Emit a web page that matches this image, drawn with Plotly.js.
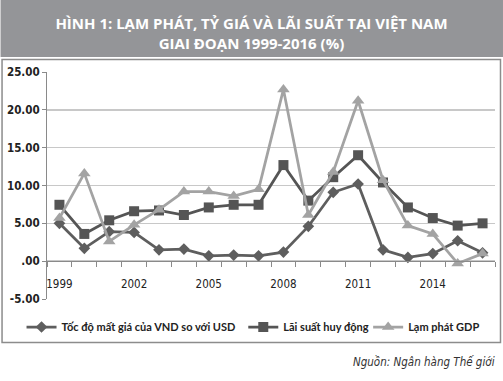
<!DOCTYPE html>
<html>
<head>
<meta charset="utf-8">
<script src="https://cdn.plot.ly/plotly-3.0.1.min.js"></script>
<style>
html,body{margin:0;padding:0;background:#fff;}
#chart{width:503px;height:381px;}
</style>
</head>
<body>
<div id="chart"></div>
<script>
var years = ["1999","2000","2001","2002","2003","2004","2005","2006","2007","2008","2009","2010","2011","2012","2013","2014","2015","2016"];
var yearLabels = ["1999","","","2002","","","2005","","","2008","","","2011","","","2014","",""];
var depreciation = [5.0,1.7,3.9,3.8,1.5,1.6,0.7,0.8,0.7,1.2,4.6,9.1,10.2,1.5,0.5,1.0,2.7,1.1];
var depositRate = [7.45,3.6,5.4,6.6,6.7,6.1,7.1,7.45,7.45,12.7,8.0,11.1,14.0,10.4,7.1,5.7,4.7,5.0];
var gdpInflation = [5.7,11.6,2.6,4.8,6.8,9.2,9.2,8.6,9.5,22.7,6.1,11.8,21.2,10.7,4.7,3.6,-0.3,1.0];
var yTickVals = [-5,0,5,10,15,20,25];
var yTickText = ["-5.00",".00","5.00","10.00","15.00","20.00","25.00"];
var seriesNames = ["Tốc độ mất giá của VND so với USD","Lãi suất huy động","Lạm phát GDP"];
var titleLines = ["HÌNH 1: LẠM PHÁT, TỶ GIÁ VÀ LÃI SUẤT TẠI VIỆT NAM","GIAI ĐOẠN 1999-2016 (%)"];
var sourceText = "Nguồn: Ngân hàng Thế giới";

var W = 503, H = 381;
var m = {l:46.5, r:8, t:72, b:82};
var pw = W - m.l - m.r, ph = H - m.t - m.b;
function px(x){ return (x - m.l)/pw; }
function py(y){ return (H - m.b - y)/ph; }

var narrow = '"DejaVu Sans Condensed", Arial, sans-serif';

var traces = [
  {x: years, y: depreciation, name: seriesNames[0], type:'scatter', mode:'lines+markers', legend:'legend',
   line:{color:'#5e5e5e', width:2.75}, marker:{symbol:'diamond', size:9, color:'#5e5e5e'}},
  {x: years, y: depositRate, name: seriesNames[1], type:'scatter', mode:'lines+markers', legend:'legend2',
   line:{color:'#555555', width:2.75}, marker:{symbol:'square', size:10, color:'#555555'}},
  {x: years, y: gdpInflation, name: seriesNames[2], type:'scatter', mode:'lines+markers', legend:'legend3',
   line:{color:'#a3a3a3', width:2.75}, marker:{symbol:'triangle-up', size:11, color:'#a3a3a3'}}
];

var legFont = {family:'Lato, "DejaVu Sans Condensed", sans-serif', size:11, color:'#222', weight:700};
function leg(x){ return {orientation:'h', x:px(x), xanchor:'left', y: py(327), yanchor:'middle',
  font:legFont, itemwidth:30, bgcolor:'rgba(0,0,0,0)', borderwidth:0}; }

var layout = {
  width: W, height: H,
  margin: m,
  paper_bgcolor:'#fff', plot_bgcolor:'#fff',
  showlegend: true,
  title: {text: titleLines.join('<br>'), x:0.5, xref:'container', xanchor:'center',
          y: 1 - 29/H, yref:'container', yanchor:'middle',
          font:{family:'"Open Sans", sans-serif', size:15, color:'#ffffff', weight:700}},
  xaxis: {type:'category', tickmode:'array', tickvals: years, ticktext: yearLabels,
          tickson:'boundaries', ticks:'outside', ticklen:5, tickcolor:'#8a8a8a',
          showgrid:false, showline:true, linecolor:'#8a8a8a', linewidth:1,
          anchor:'free', position: 5/30, ticklabelstandoff: 12, tickangle:0,
          range:[-0.5, 17.5], zeroline:false, automargin:false,
          tickfont:{family:narrow, size:11.5, color:'#222'}},
  yaxis: {range:[-5,25], tickmode:'array', tickvals: yTickVals, ticktext: yTickText,
          showgrid:true, gridcolor:'#c8c8c8', gridwidth:1.5, automargin:false,
          zeroline:false, showline:true, linecolor:'#8a8a8a', linewidth:1,
          ticks:'outside', ticklen:4, tickcolor:'#8a8a8a',
          tickfont:{family:narrow, size:11.5, color:'#222', weight:700}},
  legend: leg(21), legend2: leg(243), legend3: leg(368),
  shapes: [
    {type:'rect', xref:'paper', yref:'paper', x0:px(0), x1:px(W), y0:py(57), y1:py(-2),
     fillcolor:'#949598', line:{width:0}, layer:'below'},
    {type:'rect', xref:'paper', yref:'paper', x0:px(1.5), x1:px(500.5), y0:py(342.5), y1:py(59.5),
     fillcolor:'rgba(0,0,0,0)', line:{color:'#8c8c8c', width:1.5}, layer:'below'}
  ],
  annotations: [
    {text: sourceText, xref:'paper', yref:'paper', x: px(497), y: py(362), xanchor:'right', yanchor:'middle',
     showarrow:false, font:{family:narrow, size:11.5, color:'#333', style:'italic'}}
  ]
};

Plotly.newPlot('chart', traces, layout, {displayModeBar:false, staticPlot:true});
</script>
</body>
</html>
